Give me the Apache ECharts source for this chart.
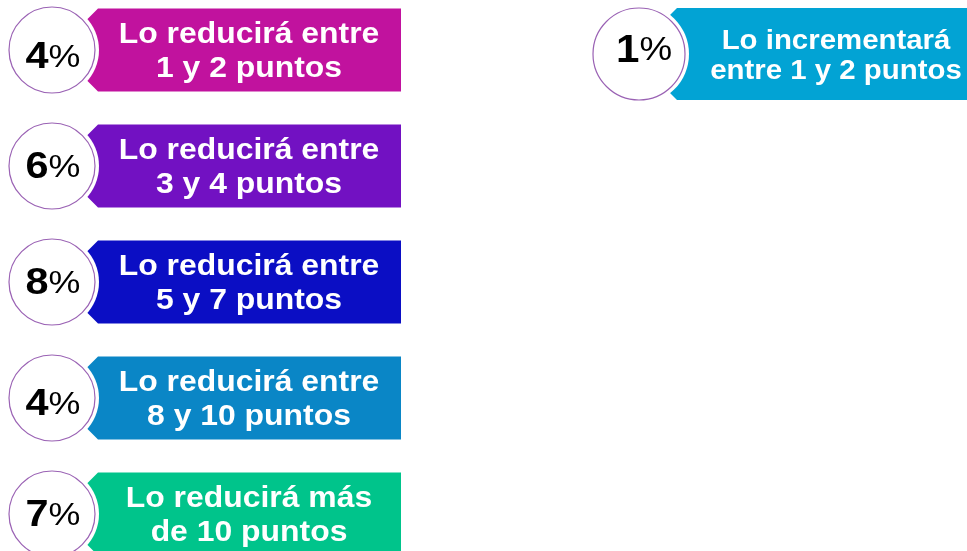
<!DOCTYPE html>
<html>
<head>
<meta charset="utf-8">
<script src="https://cdn.jsdelivr.net/npm/echarts@6/dist/echarts.min.js"></script>
<style>
  html, body { margin: 0; padding: 0; background: #fff; }
  #main { width: 967px; height: 551px; }
</style>
</head>
<body>
<div id="main"></div>
<script>
  // datos
  const etiquetas = [
    'Lo reducirá entre\n1 y 2 puntos',
    'Lo reducirá entre\n3 y 4 puntos',
    'Lo reducirá entre\n5 y 7 puntos',
    'Lo reducirá entre\n8 y 10 puntos',
    'Lo reducirá más\nde 10 puntos',
    'Lo incrementará\nentre 1 y 2 puntos'
  ];
  const porcentajes = [4, 6, 8, 4, 7, 1];
  const columnas = ['reducirá', 'reducirá', 'reducirá', 'reducirá', 'reducirá', 'incrementará'];
  const filas = ['1', '2', '3', '4', '5', '1'];
  const colores = ['#c1129e', '#7211c2', '#0b0ec4', '#0a86c6', '#00c48b', '#02a3d4'];

  const columnasEje = ['reducirá', 'incrementará'];
  const filasEje = ['1', '2', '3', '4', '5'];

  // ajuste vertical del numero dentro del circulo (estilo)
  const ajusteNum = [8, 2, 2, 7, 2, -3];

  // geometria por columna (solo estilo)
  const geo = [
    {dy: 0, r: 43, corner: 46, notch: 35, cham: 11, half: 41.5, right: 349, textX: 197, textDy: 2, font: 29, lh: 34, sx: 1.1, numDx: 1, numFont: 37, pctFont: 32, numSx: 1.12},
    {dy: 4, r: 46, corner: 38, notch: 27, cham: 11, half: 46, right: 340, textX: 197, textDy: 2, font: 28, lh: 30, sx: 1.05, numDx: 5, numFont: 39, pctFont: 34, numSx: 1.08}
  ];

  const data = etiquetas.map((t, i) => [columnas[i], filas[i], porcentajes[i], i]);

  const fuente = '"Liberation Sans", Arial, sans-serif';

  function renderItem(params, api) {
    const i = api.value(3);
    const col = columnasEje.indexOf(columnas[i]);
    const g = geo[col];
    const p = api.coord([columnas[i], filas[i]]);
    const cx = p[0], cy = p[1] + g.dy;
    const color = colores[i];
    return {
      type: 'group',
      children: [
        {
          type: 'polygon',
          shape: {
            points: [
              [cx + g.corner, cy - g.half],
              [cx + g.right, cy - g.half],
              [cx + g.right, cy + g.half],
              [cx + g.corner, cy + g.half],
              [cx + g.notch, cy + g.half - g.cham],
              [cx + g.notch, cy - g.half + g.cham]
            ]
          },
          style: {fill: color}
        },
        {
          type: 'text',
          x: cx + g.textX,
          y: cy + g.textDy,
          scaleX: g.sx,
          style: {
            text: etiquetas[i],
            x: 0,
            y: 0,
            align: 'center',
            verticalAlign: 'middle',
            fill: '#fff',
            fontFamily: fuente,
            fontWeight: 'bold',
            fontSize: g.font,
            lineHeight: g.lh
          }
        },
        {
          type: 'circle',
          shape: {cx: cx, cy: cy, r: g.r + 4},
          style: {fill: '#fff'}
        },
        {
          type: 'circle',
          shape: {cx: cx, cy: cy, r: g.r},
          style: {fill: '#fff', stroke: '#9a62b4', lineWidth: 1.2}
        },
        {
          type: 'text',
          x: cx + g.numDx,
          y: cy + ajusteNum[i],
          scaleX: g.numSx,
          style: {
            text: '{n|' + api.value(2) + '}{p|%}',
            x: 0,
            y: 0,
            align: 'center',
            verticalAlign: 'middle',
            rich: {
              n: {fontFamily: fuente, fontWeight: 'bold', fontSize: g.numFont, fill: '#000', color: '#000'},
              p: {fontFamily: fuente, fontWeight: 'normal', fontSize: g.pctFont, fill: '#000', color: '#000'}
            }
          }
        }
      ]
    };
  }

  const myChart = echarts.init(document.getElementById('main'));
  myChart.setOption({
    animation: false,
    grid: {left: 52, right: 328, top: 50, bottom: 37},
    xAxis: {
      type: 'category',
      data: columnasEje,
      boundaryGap: false,
      show: false
    },
    yAxis: {
      type: 'category',
      data: filasEje,
      inverse: true,
      boundaryGap: false,
      show: false
    },
    series: [{
      type: 'custom',
      renderItem: renderItem,
      data: data,
      clip: false
    }]
  });
</script>
</body>
</html>
